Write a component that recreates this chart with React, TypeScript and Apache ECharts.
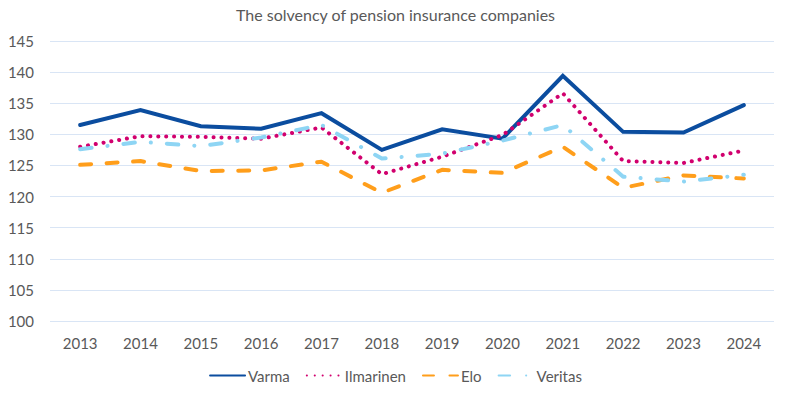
import React, { useEffect, useRef } from "react";
import * as echarts from "echarts";

const years = ["2013", "2014", "2015", "2016", "2017", "2018", "2019", "2020", "2021", "2022", "2023", "2024"];
const varma = [131.5, 133.9, 131.3, 130.9, 133.4, 127.5, 130.8, 129.3, 139.4, 130.4, 130.3, 134.7];
const ilmarinen = [128.0, 129.7, 129.6, 129.3, 131.1, 123.6, 126.4, 129.9, 136.6, 125.7, 125.4, 127.4];
const elo = [125.1, 125.7, 124.1, 124.2, 125.6, 120.6, 124.3, 123.8, 128.0, 121.4, 123.4, 122.9];
const veritas = [127.6, 128.8, 128.1, 129.5, 131.5, 126.1, 126.9, 129.0, 131.5, 123.2, 122.4, 123.5];

const seriesNames = ["Varma", "Ilmarinen", "Elo", "Veritas"];
const titleText = "The solvency of pension insurance companies";

const FONT = "Lato, 'Open Sans', sans-serif";
const GRAY = "#595959";

export default function App() {
  const ref = useRef<HTMLDivElement>(null);
  useEffect(() => {
    if (!ref.current) return;
    const chart = echarts.init(ref.current, null, { renderer: "svg" });
    chart.setOption({
      animation: false,
      backgroundColor: "#ffffff",
      title: {
        text: titleText,
        left: "center",
        top: 1,
        textStyle: { fontFamily: FONT, fontSize: 16, fontWeight: "normal", color: GRAY },
      },
      legend: {
        top: 363,
        left: "center",
        itemWidth: 35,
        itemHeight: 4,
        itemGap: 16,
        itemStyle: { opacity: 0 },
        textStyle: { fontFamily: FONT, fontSize: 15, color: GRAY, padding: [0, 0, 0, -2] },
        data: seriesNames,
      },
      grid: { left: 50, right: 17, top: 41, height: 280 },
      xAxis: {
        type: "category",
        data: years,
        boundaryGap: true,
        axisLine: { show: false },
        axisTick: { show: false },
        axisLabel: { fontFamily: FONT, fontSize: 15, color: GRAY, margin: 14 },
      },
      yAxis: {
        type: "value",
        min: 100,
        max: 145,
        interval: 5,
        axisLine: { show: false },
        axisTick: { show: false },
        axisLabel: { fontFamily: FONT, fontSize: 15, color: GRAY, margin: 16 },
        splitLine: { lineStyle: { color: "#d9e5f5", width: 1 } },
      },
      series: [
        {
          name: seriesNames[0],
          type: "line",
          data: varma,
          symbol: "none",
          lineStyle: { color: "#0b4d9f", width: 4, cap: "round", join: "miter" },
          itemStyle: { color: "#0b4d9f" },
        },
        {
          name: seriesNames[1],
          type: "line",
          data: ilmarinen,
          symbol: "none",
          lineStyle: { color: "#d1006e", width: 4, type: [0.1, 7.8], cap: "round", join: "round" },
          itemStyle: { color: "#d1006e" },
        },
        {
          name: seriesNames[2],
          type: "line",
          data: elo,
          symbol: "none",
          lineStyle: { color: "#ff9e1b", width: 4, type: [11, 15.5], cap: "round", join: "round" },
          itemStyle: { color: "#ff9e1b" },
        },
        {
          name: seriesNames[3],
          type: "line",
          data: veritas,
          symbol: "none",
          lineStyle: { color: "#8ed5f4", width: 4, type: [11.5, 16, 0.1, 16], cap: "round", join: "round" },
          itemStyle: { color: "#8ed5f4" },
        },
      ],
    });
    return () => chart.dispose();
  }, []);
  return (
    <div
      ref={ref}
      style={{ position: "fixed", left: 0, top: 0, width: 791, height: 399 }}
    />
  );
}
